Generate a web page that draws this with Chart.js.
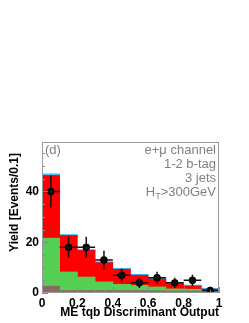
<!DOCTYPE html>
<html>
<head>
<meta charset="utf-8">
<script src="https://cdn.jsdelivr.net/npm/chart.js@4"></script>
<style>
  html, body { margin: 0; padding: 0; background: #fff; }
  #wrap { width: 249px; height: 323px; }
</style>
</head>
<body>
<div id="wrap"><canvas id="myChart" width="249" height="323"></canvas></div>
<script>
// bin centres of the discriminant histogram
const binCenters = [0.05, 0.15, 0.25, 0.35, 0.45, 0.55, 0.65, 0.75, 0.85, 0.95];

// stacked backgrounds + signal (events / 0.1)
const multijet = [2.7, 1.0, 1.0, 1.0, 1.0, 1.0, 0.9, 0.8, 0.8, 0.5];
const wjets    = [18.9, 7.3, 5.3, 3.4, 2.4, 2.0, 1.5, 0.8, 0.7, 0.3];
const ttbar    = [24.7, 14.3, 10.4, 7.5, 5.9, 3.9, 2.9, 1.9, 1.1, 0.5];
const tbSig    = [0.1, 0.15, 0.15, 0.15, 0.15, 0.2, 0.25, 0.25, 0.25, 0.3];
const tqbSig   = [0.6, 0.3, 0.3, 0.3, 0.3, 0.3, 0.3, 0.3, 0.3, 0.2];

// data points
const dataYield = [40, 18, 18, 13, 7, 4, 6, 4, 5, 1];
const dataError = [6.3, 4.2, 4.2, 3.6, 2.6, 2.0, 2.4, 2.0, 2.2, 1.0];

const xTickLabels = [0, 0.2, 0.4, 0.6, 0.8, 1];
const yTickLabels = [0, 20, 40];
const infoLines = ['e+\u03bc channel', '1-2 b-tag', '3 jets'];

const FONT = '"Liberation Sans", Arial, sans-serif';

function toPoints(values) {
    return values.map((v, i) => ({ x: binCenters[i], y: v }));
}

function barSet(label, values, color) {
    return {
        type: 'bar',
        label: label,
        data: toPoints(values),
        backgroundColor: color,
        borderWidth: 0,
        barPercentage: 1,
        categoryPercentage: 1,
        stack: 'mc',
        order: 2
    };
}

const decorations = {
    id: 'decorations',
    afterDatasetsDraw(chart) {
        const { ctx, chartArea: a, scales } = chart;
        const xs = scales.x, ys = scales.y;
        ctx.save();

        // error bars
        ctx.strokeStyle = '#111';
        ctx.lineWidth = 1.5;
        dataYield.forEach((v, i) => {
            const cx = xs.getPixelForValue(binCenters[i]);
            const cy = ys.getPixelForValue(v);
            ctx.beginPath();
            ctx.moveTo(cx, ys.getPixelForValue(v - dataError[i]));
            ctx.lineTo(cx, ys.getPixelForValue(v + dataError[i]));
            ctx.moveTo(xs.getPixelForValue(binCenters[i] - 0.05), cy);
            ctx.lineTo(xs.getPixelForValue(binCenters[i] + 0.05), cy);
            ctx.stroke();
        });

        // ticks inside the frame
        ctx.strokeStyle = '#888';
        ctx.lineWidth = 1;
        for (let v = 0; v <= 59; v += 5) {
            const y = Math.round(ys.getPixelForValue(v)) + 0.5;
            const len = v % 20 === 0 ? 6 : 3;
            ctx.beginPath();
            ctx.moveTo(a.left, y);
            ctx.lineTo(a.left + len, y);
            ctx.stroke();
        }
        for (let k = 0; k <= 20; k++) {
            const x = Math.round(xs.getPixelForValue(k * 0.05)) + 0.5;
            const len = k % 4 === 0 ? 6 : 3;
            ctx.beginPath();
            ctx.moveTo(x, a.bottom);
            ctx.lineTo(x, a.bottom - len);
            ctx.stroke();
        }

        // frame
        ctx.strokeStyle = '#999';
        ctx.strokeRect(a.left + 0.5, a.top + 0.5, a.right - a.left - 1, a.bottom - a.top - 1);

        // panel label and selection text
        ctx.fillStyle = '#808080';
        ctx.font = '13px ' + FONT;
        ctx.textBaseline = 'middle';
        ctx.textAlign = 'left';
        ctx.fillText('(d)', a.left + 3, 150);
        ctx.textAlign = 'right';
        const rx = a.right - 3;
        infoLines.forEach((t, i) => ctx.fillText(t, rx, 150 + i * 14.3));
        // H_T>300GeV with subscript
        const yH = 150 + 3 * 14.3;
        const rest = '>300GeV';
        const wRest = ctx.measureText(rest).width;
        ctx.fillText(rest, rx, yH);
        ctx.font = '9px ' + FONT;
        const wT = ctx.measureText('T').width;
        ctx.fillText('T', rx - wRest, yH + 4);
        ctx.font = '13px ' + FONT;
        ctx.fillText('H', rx - wRest - wT, yH);

        // axis titles
        ctx.fillStyle = '#000';
        ctx.font = 'bold 12px ' + FONT;
        ctx.textAlign = 'right';
        ctx.fillText('ME tqb Discriminant Output', a.right, 313);
        ctx.translate(15, 153);
        ctx.rotate(-Math.PI / 2);
        ctx.fillText('Yield [Events/0.1]', 0, 0);

        ctx.restore();
    }
};

const ctx = document.getElementById('myChart');

new Chart(ctx, {
    data: {
        datasets: [
            {
                type: 'line',
                label: 'Data',
                data: toPoints(dataYield),
                showLine: false,
                pointRadius: 3.4,
                pointBackgroundColor: '#000',
                pointBorderColor: '#000',
                stack: 'data',
                order: 0
            },
            barSet('Multijet', multijet, '#8a6a5c'),
            barSet('W+jets', wjets, '#55d055'),
            barSet('ttbar', ttbar, '#ff0000'),
            barSet('tb', tbSig, '#3a5fe0'),
            barSet('tqb', tqbSig, '#40d0f4')
        ]
    },
    options: {
        responsive: false,
        animation: false,
        layout: { padding: { left: 0, right: 30, top: 142, bottom: 0 } },
        plugins: {
            legend: { display: false },
            tooltip: { enabled: false }
        },
        scales: {
            x: {
                type: 'linear',
                offset: false,
                min: 0,
                max: 1,
                afterFit(scale) { scale.height = 30; },
                afterBuildTicks(scale) {
                    scale.ticks = xTickLabels.map(v => ({ value: v }));
                },
                grid: { display: false, drawTicks: false, tickLength: 0 },
                border: { display: false },
                ticks: {
                    padding: 3,
                    maxRotation: 0,
                    autoSkip: false,
                    color: '#000',
                    font: { family: FONT, size: 12, weight: 'bold' },
                    callback: v => String(v)
                }
            },
            y: {
                stacked: true,
                min: 0,
                max: 59.5,
                afterFit(scale) { scale.width = 42; },
                afterBuildTicks(scale) {
                    scale.ticks = yTickLabels.map(v => ({ value: v }));
                },
                grid: { display: false, drawTicks: false, tickLength: 0 },
                border: { display: false },
                ticks: {
                    padding: 3,
                    color: '#000',
                    font: { family: FONT, size: 12, weight: 'bold' }
                }
            }
        }
    },
    plugins: [decorations]
});
</script>
</body>
</html>
